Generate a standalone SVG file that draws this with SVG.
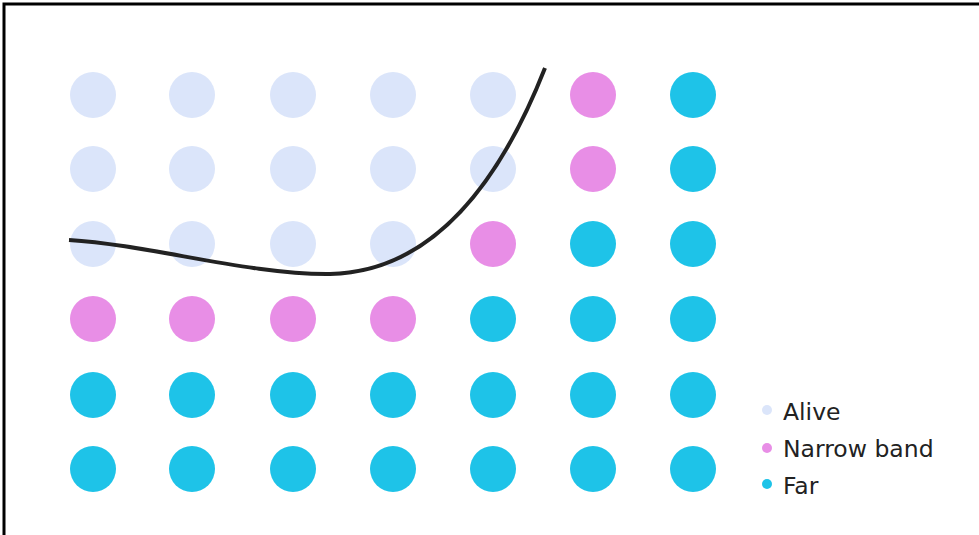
<svg xmlns="http://www.w3.org/2000/svg" width="979" height="535" viewBox="0 0 979 535">
<defs>
<style>
.alive{fill:#dbe5fa;}
.narrow{fill:#e88ee6;}
.far{fill:#1ec3e8;}
.lbl{font-family:"DejaVu Sans",Verdana,sans-serif;font-size:23.5px;fill:#222;}
</style>
</defs>
<rect width="979" height="535" fill="#fff"/>
<path d="M4,535 V4 H979" fill="none" stroke="#000" stroke-width="3"/>
<g id="grid">
<g id="row1">
<circle class="alive" cx="93" cy="95" r="23"/>
<circle class="alive" cx="192" cy="95" r="23"/>
<circle class="alive" cx="293" cy="95" r="23"/>
<circle class="alive" cx="393" cy="95" r="23"/>
<circle class="alive" cx="493" cy="95" r="23"/>
<circle class="narrow" cx="593" cy="95" r="23"/>
<circle class="far" cx="693" cy="95" r="23"/>
</g>
<g id="row2">
<circle class="alive" cx="93" cy="169" r="23"/>
<circle class="alive" cx="192" cy="169" r="23"/>
<circle class="alive" cx="293" cy="169" r="23"/>
<circle class="alive" cx="393" cy="169" r="23"/>
<circle class="alive" cx="493" cy="169" r="23"/>
<circle class="narrow" cx="593" cy="169" r="23"/>
<circle class="far" cx="693" cy="169" r="23"/>
</g>
<g id="row3">
<circle class="alive" cx="93" cy="244" r="23"/>
<circle class="alive" cx="192" cy="244" r="23"/>
<circle class="alive" cx="293" cy="244" r="23"/>
<circle class="alive" cx="393" cy="244" r="23"/>
<circle class="narrow" cx="493" cy="244" r="23"/>
<circle class="far" cx="593" cy="244" r="23"/>
<circle class="far" cx="693" cy="244" r="23"/>
</g>
<g id="row4">
<circle class="narrow" cx="93" cy="319" r="23"/>
<circle class="narrow" cx="192" cy="319" r="23"/>
<circle class="narrow" cx="293" cy="319" r="23"/>
<circle class="narrow" cx="393" cy="319" r="23"/>
<circle class="far" cx="493" cy="319" r="23"/>
<circle class="far" cx="593" cy="319" r="23"/>
<circle class="far" cx="693" cy="319" r="23"/>
</g>
<g id="row5">
<circle class="far" cx="93" cy="395" r="23"/>
<circle class="far" cx="192" cy="395" r="23"/>
<circle class="far" cx="293" cy="395" r="23"/>
<circle class="far" cx="393" cy="395" r="23"/>
<circle class="far" cx="493" cy="395" r="23"/>
<circle class="far" cx="593" cy="395" r="23"/>
<circle class="far" cx="693" cy="395" r="23"/>
</g>
<g id="row6">
<circle class="far" cx="93" cy="469" r="23"/>
<circle class="far" cx="192" cy="469" r="23"/>
<circle class="far" cx="293" cy="469" r="23"/>
<circle class="far" cx="393" cy="469" r="23"/>
<circle class="far" cx="493" cy="469" r="23"/>
<circle class="far" cx="593" cy="469" r="23"/>
<circle class="far" cx="693" cy="469" r="23"/>
</g>
</g>
<g id="front">
<path d="M69,240 C150,245 250,275 330,274 C425,272 495,195 545,68" fill="none" stroke="#222" stroke-width="4"/>
</g>
<g id="legend">
<circle class="alive" cx="767" cy="410" r="5"/>
<text class="lbl" x="783" y="420">Alive</text>
<circle class="narrow" cx="767" cy="448" r="5"/>
<text class="lbl" x="783" y="457">Narrow band</text>
<circle class="far" cx="767" cy="484" r="5"/>
<text class="lbl" x="783" y="494">Far</text>
</g>
</svg>
